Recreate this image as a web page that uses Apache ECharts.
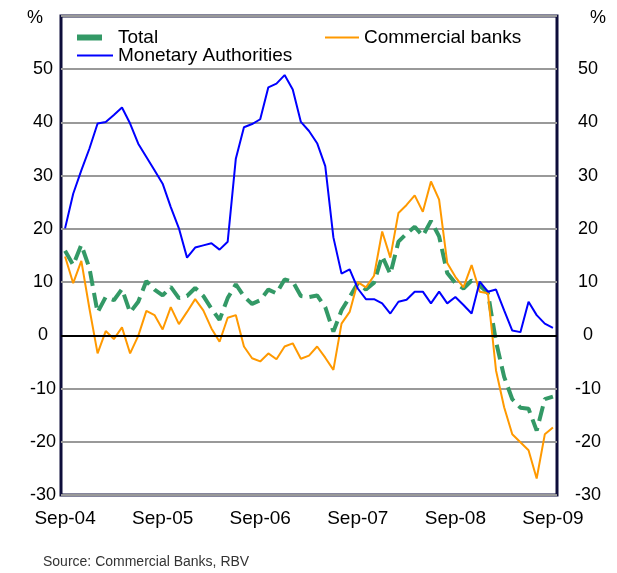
<!DOCTYPE html>
<html lang="en">
<head>
    <meta http-equiv="Content-Type" content="text/html; charset=utf-8"/>
    <title>Foreign currency deposits</title>
    <script type="text/javascript" src="https://cdn.jsdelivr.net/npm/echarts@6/dist/echarts.min.js"></script>
    <style>
        html, body { margin: 0; padding: 0; background: #fff; }
    </style>
</head>
<body>
<div id="chart" style="width:617px;height:573px;"></div>
<script type="text/javascript">
    // monthly, Sep-04 .. Sep-09 (61 points), year-on-year growth in %
    var monthNames = ['Sep', 'Oct', 'Nov', 'Dec', 'Jan', 'Feb', 'Mar', 'Apr', 'May', 'Jun', 'Jul', 'Aug'];
    var tickLabels = ['Sep-04', 'Sep-05', 'Sep-06', 'Sep-07', 'Sep-08', 'Sep-09'];

    var total = [15.9, 13.2, 17.0, 12.6, 4.3, 7.2, 6.6, 8.7, 4.3, 6.3,
        10.2, 8.6, 7.5, 9.1, 7.0, 7.4, 8.9, 7.4, 5.0, 2.9,
        7.0, 9.6, 7.3, 5.9, 6.6, 8.6, 7.9, 10.5, 10.1, 7.4,
        7.2, 7.5, 5.3, 0.7, 4.7, 7.2, 9.8, 8.6, 9.9, 14.9,
        11.5, 17.6, 19.1, 20.4, 18.7, 21.5, 18.6, 11.7, 9.8, 8.8,
        10.3, 9.3, 8.0, -1.2, -7.8, -12.0, -13.6, -13.8, -17.9, -12.0, -11.5];

    var commercial = [14.8, 9.8, 14.0, 5.0, -3.4, 0.8, -0.7, 1.5, -3.4, -0.1,
        4.6, 3.8, 1.1, 5.3, 2.1, 4.4, 6.8, 4.7, 1.3, -1.2,
        3.3, 3.8, -2.1, -4.3, -4.9, -3.4, -4.5, -2.1, -1.5, -4.4,
        -3.8, -2.1, -4.2, -6.5, 2.2, 4.4, 10.0, 9.0, 11.2, 19.5,
        14.6, 23.0, 24.5, 26.3, 23.2, 28.9, 25.5, 13.6, 11.0, 9.0,
        13.2, 8.2, 7.9, -6.6, -13.5, -18.6, -20.1, -21.6, -26.9, -18.6, -17.3];

    var monetary = [20.1, 26.6, 31.0, 35.1, 39.8, 40.1, 41.4, 42.8, 39.8, 36.0,
        33.5, 31.0, 28.5, 24.1, 20.1, 14.6, 16.5, 16.9, 17.3, 16.1,
        17.6, 33.2, 39.1, 39.7, 40.6, 46.6, 47.3, 48.9, 46.2, 40.1,
        38.4, 36.1, 31.8, 18.4, 11.6, 12.4, 8.8, 6.8, 6.8, 6.0,
        4.1, 6.3, 6.7, 8.2, 8.2, 6.0, 8.2, 6.0, 7.2, 5.7,
        4.1, 10.1, 8.2, 8.6, 4.7, 0.9, 0.6, 6.3, 3.8, 2.2, 1.4];

    // category labels Sep-04 ... Sep-09
    var categories = [];
    for (var i = 0; i < total.length; i++) {
        var yr = 4 + Math.floor((i + 8) / 12);
        categories.push(monthNames[i % 12] + '-' + (yr < 10 ? '0' + yr : '' + yr));
    }

    var font = 'Liberation Sans, Arial, sans-serif';
    var myChart = echarts.init(document.getElementById('chart'));

    var yAxisBase = {
        type: 'value',
        min: -30,
        max: 60,
        interval: 10,
        axisLine: {show: false},
        axisTick: {show: false},
        axisLabel: {
            color: '#000',
            fontSize: 18,
            fontFamily: font,
            align: 'center',
            formatter: function (v) { return v >= 60 ? '' : v; }
        }
    };

    var option = {
        animation: false,
        backgroundColor: '#fff',
        grid: {
            left: 61,
            right: 60,
            top: 16,
            bottom: 78,
            show: true,
            borderColor: '#0d0d3a',
            borderWidth: 3,
            backgroundColor: 'transparent'
        },
        legend: [
            {
                data: ['Total'],
                left: 77, top: 28, padding: 0,
                icon: 'rect', itemWidth: 25, itemHeight: 6,
                itemStyle: {borderWidth: 0},
                textStyle: {color: '#000', fontSize: 19, fontFamily: font, padding: [0, 0, 0, 11]}
            },
            {
                data: ['Commercial banks'],
                left: 325, top: 28, padding: 0,
                icon: 'rect', itemWidth: 34, itemHeight: 2,
                itemStyle: {borderWidth: 0},
                textStyle: {color: '#000', fontSize: 19, fontFamily: font}
            },
            {
                data: ['Monetary Authorities'],
                left: 77, top: 46, padding: 0,
                icon: 'rect', itemWidth: 36, itemHeight: 2,
                itemStyle: {borderWidth: 0},
                textStyle: {color: '#000', fontSize: 19, fontFamily: font}
            }
        ],
        graphic: [
            {type: 'text', left: 27, top: 9, style: {text: '%', fontSize: 18, fontFamily: font, fill: '#000'}},
            {type: 'text', left: 590, top: 9, style: {text: '%', fontSize: 18, fontFamily: font, fill: '#000'}},
            {type: 'text', left: 43, top: 555, style: {text: 'Source: Commercial Banks, RBV', fontSize: 14, fontFamily: font, fill: '#333'}}
        ],
        xAxis: {
            type: 'category',
            data: categories,
            boundaryGap: true,
            axisLine: {show: false},
            axisTick: {show: false},
            splitLine: {show: false},
            axisLabel: {
                interval: 11,
                margin: 14,
                color: '#000',
                fontSize: 19,
                fontFamily: font
            }
        },
        yAxis: [
            echarts.util.merge({
                position: 'left',
                splitLine: {show: true, lineStyle: {color: '#999', width: 2}},
                axisLabel: {margin: 18}
            }, yAxisBase),
            echarts.util.merge({
                position: 'right',
                splitLine: {show: false},
                axisLabel: {margin: 31}
            }, yAxisBase)
        ],
        series: [
            {
                name: 'Total',
                type: 'line',
                data: total,
                symbol: 'none',
                color: '#339966',
                lineStyle: {color: '#339966', width: 4, type: [15, 7]},
                markLine: {
                    silent: true,
                    symbol: 'none',
                    label: {show: false},
                    lineStyle: {color: '#000', width: 2, type: 'solid'},
                    data: [{yAxis: 0}]
                },
                z: 3
            },
            {
                name: 'Commercial banks',
                type: 'line',
                data: commercial,
                symbol: 'none',
                color: '#ff9900',
                lineStyle: {color: '#ff9900', width: 2},
                z: 4
            },
            {
                name: 'Monetary Authorities',
                type: 'line',
                data: monetary,
                symbol: 'none',
                color: '#0000ff',
                lineStyle: {color: '#0000ff', width: 2},
                z: 5
            }
        ]
    };
    myChart.setOption(option);
</script>
</body>
</html>
